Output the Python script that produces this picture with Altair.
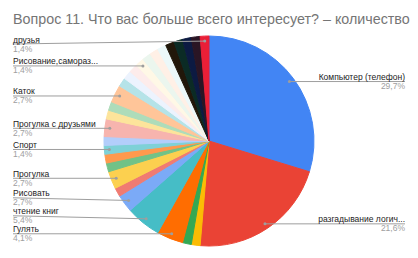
import altair as alt
import pandas as pd

title_text = "Вопрос 11. Что вас больше всего интересует? – количество"

labels = ["Компьютер (телефон)", "разгадывание логич...", "", "", "Гулять",
          "чтение книг", "Рисовать", "", "Прогулка", "", "", "Спорт", "",
          "Прогулка с друзьями", "", "", "Каток", "", "", "",
          "Рисование,самораз...", "", "", "", "", "", "", "", "друзья"]
counts = [22, 16, 1, 1, 3, 4, 2, 1, 2, 1, 1, 1, 1, 2, 1, 1, 2, 1, 1, 1,
          1, 1, 1, 1, 1, 1, 1, 1, 1]
colors = ["#4285f4", "#ea4335", "#fbbc04", "#34a853", "#ff6d01", "#46bdc6",
          "#7baaf7", "#f07b72", "#fcd04f", "#71c287", "#ff994d", "#7ed1d7",
          "#b3cefb", "#f7b4ae", "#fde49b", "#aedcba", "#ffc599", "#b5e3e8",
          "#ecf3fe", "#fdeceb", "#fff8e6", "#ebf6ee", "#fff0e6", "#ecf8f9",
          "#21170a", "#0b2b25", "#0c1a42", "#2a1524", "#ea1f37"]

total = sum(counts)
keys = [f"s{i:02d}" for i in range(len(counts))]
pct = [f"{c / total * 100:.1f}".replace(".", ",") + "%" for c in counts]

df = pd.DataFrame({"key": keys, "idx": list(range(len(counts))),
                   "label": labels, "count": counts, "pct": pct})

CX, CY, R, RD = 209, 141, 105, 100
LEFT_X, RIGHT_X = 13, 405
MIN_GAP = 18
TOP_LIMIT = 44

pie = alt.Chart(df).mark_arc(outerRadius=R).encode(
    theta=alt.Theta("count:Q", stack=True),
    order=alt.Order("idx:Q"),
    color=alt.Color("key:N", scale=alt.Scale(domain=keys, range=colors), legend=None),
    stroke=alt.Stroke("key:N", scale=alt.Scale(domain=keys, range=colors), legend=None),
    x=alt.value(CX), y=alt.value(CY),
)

base = alt.Chart(df).transform_joinaggregate(
    tot="sum(count)"
).transform_window(
    cum="sum(count)", sort=[alt.SortField("idx")], frame=[None, 0]
).transform_calculate(
    mid="(datum.cum - datum.count/2) / datum.tot * 2 * PI",
).transform_calculate(
    px=f"{CX} + {RD} * sin(datum.mid)",
    py=f"{CY} - {RD} * cos(datum.mid)",
    side="datum.mid > PI ? 'L' : 'R'",
).transform_filter(
    "datum.label != ''"
).transform_window(
    n1="lead(py)", groupby=["side"], sort=[alt.SortField("py")]
).transform_calculate(
    ly1=f"datum.n1 == null ? datum.py : min(datum.py, datum.n1 - {MIN_GAP})",
).transform_window(
    n2="lead(ly1)", groupby=["side"], sort=[alt.SortField("py")]
).transform_calculate(
    ly=f"max({TOP_LIMIT}, datum.n2 == null ? datum.ly1 : min(datum.ly1, datum.n2 - {MIN_GAP}))",
).transform_calculate(
    lx=f"datum.side == 'L' ? {LEFT_X} : {RIGHT_X}",
    ty="datum.ly - 1.5",
    py2="datum.ly + 7.5",
)

X = lambda f: alt.X(f, type="quantitative", scale=None, axis=None)
Y = lambda f: alt.Y(f, type="quantitative", scale=None, axis=None)

rules = base.mark_rule(color="#9e9e9e", strokeWidth=1).encode(
    x=X("px"), x2="lx:Q", y=Y("py"), y2="ly:Q")
dots = base.mark_circle(color="#9e9e9e", opacity=1, size=9).encode(
    x=X("px"), y=Y("py"))

FONT = "Liberation Sans"
layers = [pie, rules, dots]
for side, align in (("L", "left"), ("R", "right")):
    sb = base.transform_filter(f"datum.side == '{side}'")
    layers.append(sb.mark_text(align=align, baseline="alphabetic", fontSize=8.5,
                               font=FONT, color="#222222").encode(
        x=X("lx"), y=Y("ty"), text="label:N"))
    layers.append(sb.mark_text(align=align, baseline="alphabetic", fontSize=8.5,
                               font=FONT, color="#9e9e9e").encode(
        x=X("lx"), y=Y("py2"), text="pct:N"))

title = alt.Chart(pd.DataFrame({"t": [title_text]})).mark_text(
    align="left", baseline="alphabetic", fontSize=14.3, font=FONT, color="#757575"
).encode(x=alt.value(13), y=alt.value(24), text="t:N")
layers.append(title)

chart = alt.layer(*layers).properties(
    width=418, height=258, autosize="none", padding=0, background="white"
).configure_view(stroke=None)

chart.save("out.html", embed_options={"renderer": "svg", "actions": False})
